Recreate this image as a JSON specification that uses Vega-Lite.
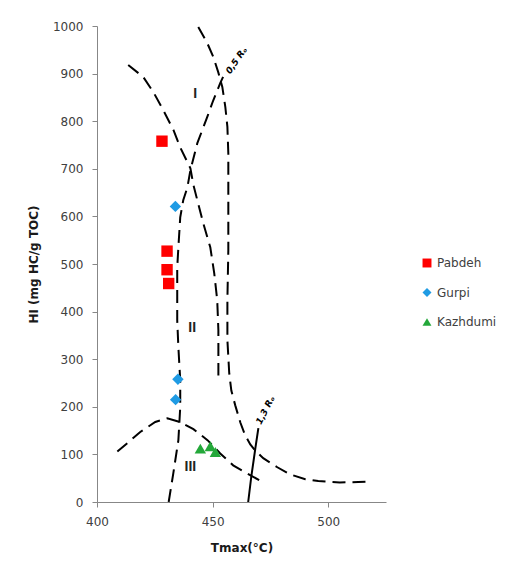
{
  "$schema": "https://vega.github.io/schema/vega-lite/v6.json",
  "autosize": "none",
  "width": 289,
  "height": 476,
  "padding": {"left": 97, "top": 26, "right": 123, "bottom": 68},
  "background": "white",
  "config": {
    "view": {"stroke": null},
    "axis": {
      "grid": false,
      "labelFlush": false,
      "domainColor": "#878787",
      "tickColor": "#878787",
      "tickSize": 5,
      "labelColor": "#404040",
      "labelFont": "DejaVu Sans",
      "labelFontSize": 12,
      "titleFont": "DejaVu Sans",
      "titleFontSize": 12,
      "titleFontWeight": "bold",
      "titleColor": "#1a1a1a"
    },
    "legend": {
      "labelFont": "DejaVu Sans",
      "labelFontSize": 12,
      "labelColor": "#404040"
    }
  },
  "datasets": {
    "curves": [
      {"c": "II", "o": 1, "x": 413.5, "y": 918},
      {"c": "II", "o": 2, "x": 420.0, "y": 893},
      {"c": "II", "o": 3, "x": 424.4, "y": 861},
      {"c": "II", "o": 4, "x": 428.7, "y": 823},
      {"c": "II", "o": 5, "x": 433.1, "y": 781},
      {"c": "II", "o": 6, "x": 436.0, "y": 745},
      {"c": "II", "o": 7, "x": 440.4, "y": 701},
      {"c": "II", "o": 8, "x": 441.7, "y": 666},
      {"c": "II", "o": 9, "x": 446.0, "y": 585},
      {"c": "II", "o": 10, "x": 449.0, "y": 535},
      {"c": "II", "o": 11, "x": 450.7, "y": 481},
      {"c": "II", "o": 12, "x": 452.0, "y": 424},
      {"c": "II", "o": 13, "x": 452.5, "y": 361},
      {"c": "II", "o": 14, "x": 452.5, "y": 266},
      {"c": "I", "o": 1, "x": 443.8, "y": 998},
      {"c": "I", "o": 2, "x": 447.7, "y": 964},
      {"c": "I", "o": 3, "x": 450.3, "y": 935},
      {"c": "I", "o": 4, "x": 452.5, "y": 902},
      {"c": "I", "o": 5, "x": 454.2, "y": 872},
      {"c": "I", "o": 6, "x": 455.5, "y": 830},
      {"c": "I", "o": 7, "x": 456.4, "y": 788},
      {"c": "I", "o": 8, "x": 456.8, "y": 733},
      {"c": "I", "o": 9, "x": 456.8, "y": 662},
      {"c": "I", "o": 10, "x": 456.8, "y": 529},
      {"c": "I", "o": 11, "x": 456.4, "y": 424},
      {"c": "I", "o": 12, "x": 456.4, "y": 340},
      {"c": "I", "o": 13, "x": 457.2, "y": 270},
      {"c": "I", "o": 14, "x": 458.1, "y": 234},
      {"c": "I", "o": 15, "x": 459.8, "y": 203},
      {"c": "I", "o": 16, "x": 462.0, "y": 167},
      {"c": "I", "o": 17, "x": 464.1, "y": 140},
      {"c": "I", "o": 18, "x": 466.3, "y": 121},
      {"c": "I", "o": 19, "x": 468.5, "y": 108},
      {"c": "I", "o": 20, "x": 471.9, "y": 92},
      {"c": "I", "o": 21, "x": 478.0, "y": 73},
      {"c": "I", "o": 22, "x": 483.6, "y": 58},
      {"c": "I", "o": 23, "x": 490.1, "y": 48},
      {"c": "I", "o": 24, "x": 495.7, "y": 44},
      {"c": "I", "o": 25, "x": 505.0, "y": 41},
      {"c": "I", "o": 26, "x": 513.0, "y": 42},
      {"c": "I", "o": 27, "x": 517.5, "y": 43},
      {"c": "R05", "o": 1, "x": 431.0, "y": 0},
      {"c": "R05", "o": 2, "x": 433.0, "y": 60},
      {"c": "R05", "o": 3, "x": 435.2, "y": 130},
      {"c": "R05", "o": 4, "x": 436.0, "y": 199},
      {"c": "R05", "o": 5, "x": 436.0, "y": 256},
      {"c": "R05", "o": 6, "x": 435.2, "y": 325},
      {"c": "R05", "o": 7, "x": 434.7, "y": 382},
      {"c": "R05", "o": 8, "x": 434.7, "y": 445},
      {"c": "R05", "o": 9, "x": 434.7, "y": 493},
      {"c": "R05", "o": 10, "x": 435.2, "y": 535},
      {"c": "R05", "o": 11, "x": 436.0, "y": 598},
      {"c": "R05", "o": 12, "x": 437.3, "y": 634},
      {"c": "R05", "o": 13, "x": 439.1, "y": 661},
      {"c": "R05", "o": 14, "x": 440.4, "y": 697},
      {"c": "R05", "o": 15, "x": 443.4, "y": 754},
      {"c": "R05", "o": 16, "x": 447.7, "y": 809},
      {"c": "R05", "o": 17, "x": 450.3, "y": 844},
      {"c": "R05", "o": 18, "x": 453.3, "y": 880},
      {"c": "R05", "o": 19, "x": 455.1, "y": 899},
      {"c": "III", "o": 1, "x": 408.8, "y": 106},
      {"c": "III", "o": 2, "x": 414.4, "y": 129},
      {"c": "III", "o": 3, "x": 418.7, "y": 147},
      {"c": "III", "o": 4, "x": 425.2, "y": 168},
      {"c": "III", "o": 5, "x": 430.4, "y": 176},
      {"c": "III", "o": 6, "x": 436.0, "y": 168},
      {"c": "III", "o": 7, "x": 441.7, "y": 153},
      {"c": "III", "o": 8, "x": 447.8, "y": 130},
      {"c": "III", "o": 9, "x": 453.3, "y": 102},
      {"c": "III", "o": 10, "x": 458.9, "y": 77},
      {"c": "III", "o": 11, "x": 465.0, "y": 60},
      {"c": "III", "o": 12, "x": 471.9, "y": 41},
      {"c": "R13", "o": 1, "x": 465.4, "y": 0},
      {"c": "R13", "o": 2, "x": 466.7, "y": 52},
      {"c": "R13", "o": 3, "x": 468.5, "y": 113},
      {"c": "R13", "o": 4, "x": 469.8, "y": 155}
    ],
    "samples": [
      {"formation": "Pabdeh", "tmax": 428.1, "hi": 758},
      {"formation": "Pabdeh", "tmax": 430.3, "hi": 527},
      {"formation": "Pabdeh", "tmax": 430.3, "hi": 488},
      {"formation": "Pabdeh", "tmax": 431.0, "hi": 459},
      {"formation": "Gurpi", "tmax": 433.9, "hi": 621},
      {"formation": "Gurpi", "tmax": 435.0, "hi": 258},
      {"formation": "Gurpi", "tmax": 434.0, "hi": 215},
      {"formation": "Kazhdumi", "tmax": 444.7, "hi": 112},
      {"formation": "Kazhdumi", "tmax": 449.0, "hi": 117},
      {"formation": "Kazhdumi", "tmax": 451.2, "hi": 105}
    ],
    "labels": [
      {"t": "I", "x": 442.5, "y": 857},
      {"t": "II", "x": 441.2, "y": 365},
      {"t": "III", "x": 440.4, "y": 73}
    ],
    "ro": [
      {"t": "0,5 Rₒ", "x": 460.3, "y": 928},
      {"t": "1,3 Rₒ", "x": 472.8, "y": 193}
    ]
  },
  "layer": [
    {
      "data": {"name": "curves"},
      "transform": [{"filter": "datum.c !== 'R13'"}],
      "mark": {"type": "line", "color": "black", "strokeWidth": 2, "strokeDash": [13, 7], "clip": false},
      "encoding": {
        "x": {"field": "x", "type": "quantitative", "scale": {"domain": [400, 525], "nice": false, "zero": false},
          "axis": {"values": [400, 450, 500], "format": "d", "title": "Tmax(°C)", "labelPadding": 9, "titlePadding": 15}},
        "y": {"field": "y", "type": "quantitative", "scale": {"domain": [0, 1000], "nice": false},
          "axis": {"values": [0, 100, 200, 300, 400, 500, 600, 700, 800, 900, 1000], "format": "d", "title": "HI (mg HC/g TOC)", "labelPadding": 9, "titlePadding": 12}},
        "detail": {"field": "c"},
        "order": {"field": "o", "type": "quantitative"}
      }
    },
    {
      "data": {"name": "curves"},
      "transform": [{"filter": "datum.c === 'R13'"}],
      "mark": {"type": "line", "color": "black", "strokeWidth": 2},
      "encoding": {
        "x": {"field": "x", "type": "quantitative"},
        "y": {"field": "y", "type": "quantitative"},
        "order": {"field": "o", "type": "quantitative"}
      }
    },
    {
      "data": {"name": "labels"},
      "mark": {"type": "text", "font": "Liberation Sans", "fontWeight": "bold", "fontSize": 14, "color": "#222"},
      "encoding": {
        "x": {"field": "x", "type": "quantitative"},
        "y": {"field": "y", "type": "quantitative"},
        "text": {"field": "t"}
      }
    },
    {
      "data": {"name": "ro"},
      "transform": [{"filter": "datum.x < 465"}],
      "mark": {"type": "text", "font": "DejaVu Sans", "fontWeight": "bold", "fontStyle": "italic", "fontSize": 9, "angle": -55, "color": "black"},
      "encoding": {
        "x": {"field": "x", "type": "quantitative"},
        "y": {"field": "y", "type": "quantitative"},
        "text": {"field": "t"}
      }
    },
    {
      "data": {"name": "ro"},
      "transform": [{"filter": "datum.x > 465"}],
      "mark": {"type": "text", "font": "DejaVu Sans", "fontWeight": "bold", "fontStyle": "italic", "fontSize": 9, "angle": -63, "color": "black"},
      "encoding": {
        "x": {"field": "x", "type": "quantitative"},
        "y": {"field": "y", "type": "quantitative"},
        "text": {"field": "t"}
      }
    },
    {
      "data": {"name": "samples"},
      "mark": {"type": "point", "filled": true, "opacity": 1, "size": 130},
      "encoding": {
        "x": {"field": "tmax", "type": "quantitative"},
        "y": {"field": "hi", "type": "quantitative"},
        "color": {"field": "formation", "type": "nominal",
          "scale": {"domain": ["Pabdeh", "Gurpi", "Kazhdumi"], "range": ["#ff0000", "#1f9be4", "#24a83a"]},
          "legend": {"title": null, "orient": "none", "legendX": 324, "legendY": 231, "symbolSize": 80, "rowPadding": 17.5, "labelOffset": 4}},
        "shape": {"field": "formation", "type": "nominal",
          "scale": {"domain": ["Pabdeh", "Gurpi", "Kazhdumi"], "range": ["square", "diamond", "triangle-up"]},
          "legend": {"title": null, "orient": "none", "legendX": 324, "legendY": 231, "symbolSize": 80, "rowPadding": 17.5, "labelOffset": 4}}
      }
    }
  ]
}
